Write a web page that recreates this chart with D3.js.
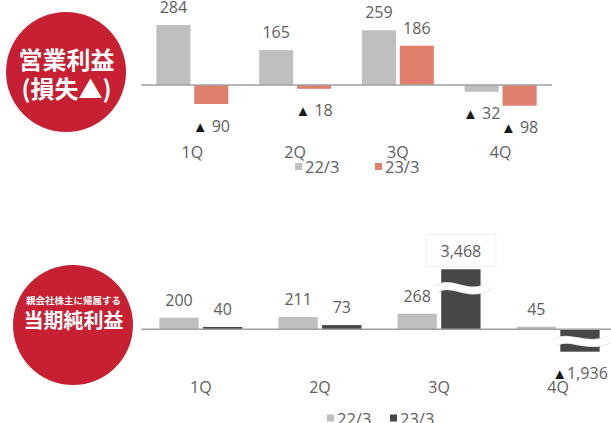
<!DOCTYPE html>
<html><head><meta charset="utf-8">
<script src="https://cdn.jsdelivr.net/npm/d3@7"></script>
<style>
html,body{margin:0;padding:0;background:#fff;}
svg{display:block;}
</style></head>
<body>
<svg id="chart" width="611" height="423"></svg>
<script>
// ---- data ----
const categories = ["1Q", "2Q", "3Q", "4Q"];
const seriesNames = ["22/3", "23/3"];
const opProfit22 = [284, 165, 259, -32];
const opProfit23 = [-90, -18, 186, -98];
const netIncome22 = [200, 211, 268, 45];
const netIncome23 = [40, 73, 3468, -1936];
const topTitle = ["営業利益", "(損失▲)"];
const bottomTitle = ["親会社株主に帰属する", "当期純利益"];
const breakThreshold = 1000;

// ---- styles ----
const RED = "#C62032";
const GRAY = "#BFBFBF";
const SALMON = "#E2806E";
const DARK = "#474747";
const TXT = "#606060";
const FONT = "'Open Sans', 'Noto Sans', sans-serif";
const CJK = "'Noto Sans CJK JP', sans-serif";

const svg = d3.select("#chart");

function drawTitle(cx, cy, r, lines, sizes, ys) {
  svg.append("circle").attr("cx", cx).attr("cy", cy).attr("r", r).attr("fill", RED);
  lines.forEach((t, i) => {
    svg.append("text").attr("x", cx + 0.5).attr("y", ys[i])
      .attr("text-anchor", "middle").attr("dominant-baseline", "central")
      .attr("font-family", CJK).attr("font-weight", 700)
      .attr("font-size", sizes[i]).attr("fill", "#fff").text(t);
  });
}

function drawChart(cfg) {
  const x0 = d3.scaleBand().domain(categories).range(cfg.xRange).padding(0);
  const x1 = d3.scaleBand().domain(seriesNames).range([0, cfg.pairWidth]).paddingInner(0.1);
  const off = (x0.bandwidth() - cfg.pairWidth) / 2;
  const y = cfg.y;
  const colors = d3.scaleOrdinal().domain(seriesNames).range(cfg.colors);
  const rows = [];
  categories.forEach((c, i) => {
    seriesNames.forEach((s, j) => rows.push({cat: c, ser: s, v: cfg.values[j][i]}));
  });
  const g = svg.append("g");
  const bx = d => x0(d.cat) + off + x1(d.ser);
  const top = d => Math.min(y(d.v), y(0));
  const h = d => Math.abs(y(d.v) - y(0));

  g.selectAll("rect.bar").data(rows).join("rect").attr("class", "bar")
    .attr("x", bx).attr("y", top).attr("width", x1.bandwidth())
    .attr("height", h).attr("fill", d => colors(d.ser));

  // axis baseline
  svg.append("line").attr("x1", cfg.axisX[0]).attr("x2", cfg.axisX[1])
    .attr("y1", y(0)).attr("y2", y(0)).attr("stroke", "#A0A0A0").attr("stroke-width", 1.5);

  // break waves
  const broken = rows.filter(d => Math.abs(d.v) > breakThreshold);
  broken.forEach(d => {
    const xa = bx(d) - 6, xb = bx(d) + x1.bandwidth() + 10;
    const yc = d.v > 0 ? top(d) + 0.32 * h(d) : top(d) + 0.55 * h(d);
    const a = d.v > 0 ? 7 : 5;
    const w = xb - xa;
    const p = `M${xa},${yc + a * 0.2} C${xa + w * 0.3},${yc - a * 1.6} ${xa + w * 0.55},${yc + a * 1.6} ${xb},${yc - a * 0.4}`;
    svg.append("path").attr("d", p).attr("fill", "none").attr("stroke", "#E8E8E8").attr("stroke-width", 8);
    svg.append("path").attr("d", p).attr("fill", "none").attr("stroke", "#fff").attr("stroke-width", 6);
  });

  // value labels
  rows.forEach(d => {
    const cx = bx(d) + x1.bandwidth() / 2;
    const t = svg.append("text").attr("x", cx)
      .attr("text-anchor", "middle").attr("dominant-baseline", "central")
      .attr("font-family", FONT).attr("font-size", 16).attr("fill", TXT);
    if (d.v >= 0) {
      t.attr("y", top(d) - 18).text(cfg.fmt(d.v));
    } else {
      t.attr("y", y(d.v) + 21.5);
      t.append("tspan").attr("fill", "#1a1a1a").attr("font-size", 15).text("▲");
      t.append("tspan").text(cfg.negSep + cfg.fmt(-d.v));
    }
    if (Math.abs(d.v) > breakThreshold && d.v > 0) {
      svg.insert("rect", ":first-child").attr("x", cx - 35).attr("y", top(d) - 35)
        .attr("width", 70).attr("height", 32).attr("fill", "none")
        .attr("stroke", "#EFEFEF").attr("stroke-width", 1);
    }
  });

  // category labels
  categories.forEach(c => {
    svg.append("text").attr("x", x0(c) + x0.bandwidth() / 2).attr("y", cfg.catY)
      .attr("text-anchor", "middle").attr("dominant-baseline", "central")
      .attr("font-family", FONT).attr("font-size", 16).attr("fill", TXT).text(c);
  });

  // legend
  seriesNames.forEach((s, j) => {
    const lx = cfg.legendX[j];
    svg.append("rect").attr("x", lx).attr("y", cfg.legendY - 3.5).attr("width", 7).attr("height", 7)
      .attr("fill", colors(s));
    svg.append("text").attr("x", lx + 10).attr("y", cfg.legendY)
      .attr("dominant-baseline", "central").attr("font-family", FONT)
      .attr("font-size", 16.5).attr("fill", TXT).text(s);
  });
}

drawTitle(66, 72, 60, topTitle, [24, 24], [58, 87]);
drawTitle(73, 325, 60, bottomTitle, [9.5, 20], [300, 319]);

drawChart({
  values: [opProfit22, opProfit23],
  colors: [GRAY, SALMON],
  xRange: [141, 552],
  pairWidth: 72,
  axisX: [141, 552],
  y: d3.scaleLinear().domain([0, 284]).range([85, 25]),
  fmt: d3.format(","),
  negSep: " ",
  catY: 152,
  legendX: [295, 375],
  legendY: 166.5
});

drawChart({
  values: [netIncome22, netIncome23],
  colors: [GRAY, DARK],
  xRange: [141.3, 617.7],
  pairWidth: 83,
  axisX: [141.5, 611],
  y: d3.scaleLinear().domain([-1936, 0, 300, 3468]).range([351.7, 329.3, 311.9, 269.3]),
  fmt: d3.format(","),
  negSep: "",
  catY: 387,
  legendX: [327, 390],
  legendY: 418
});
</script>
</body></html>
